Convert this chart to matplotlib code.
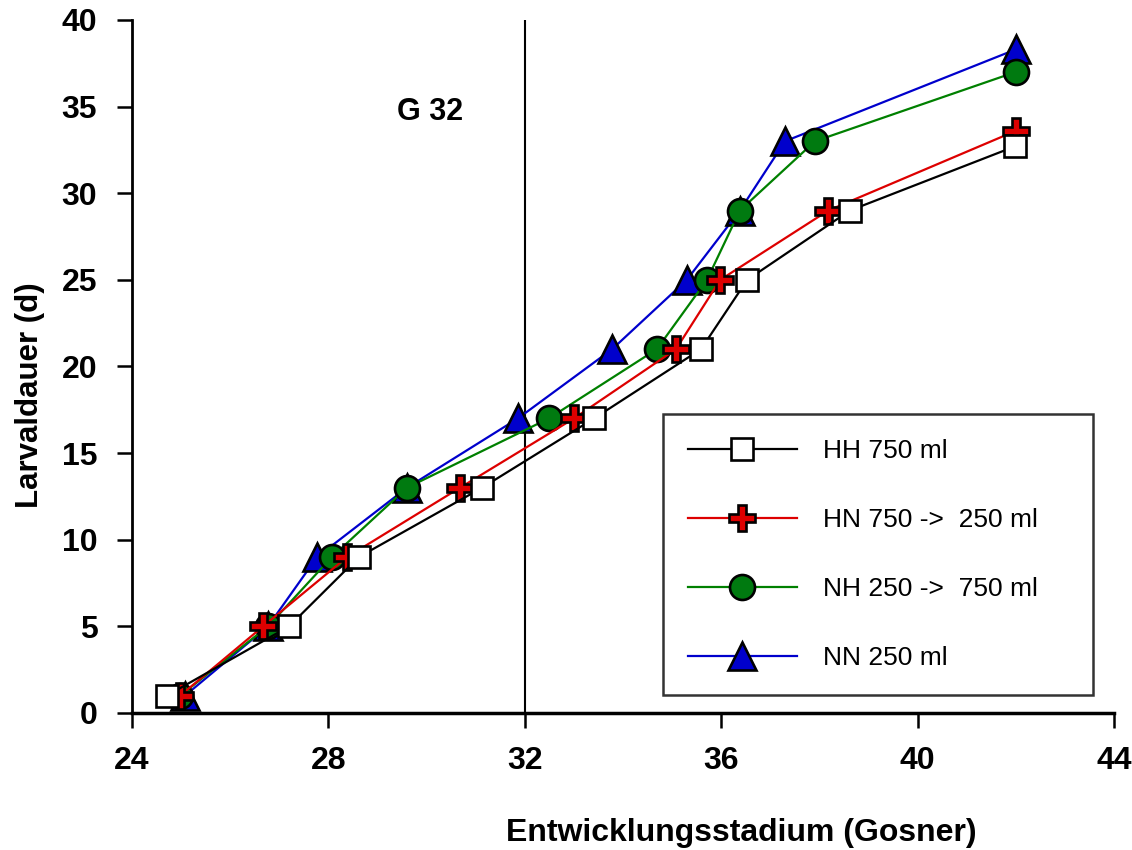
import matplotlib
matplotlib.use("Agg")
import matplotlib.pyplot as plt

# Gosner stage reached (x) versus larval duration in days (y)
hh_stage = [24.71, 27.20, 28.62, 31.13, 33.41, 35.59, 36.53, 38.62, 41.98]
hh_days = [1, 5, 9, 13, 17, 21, 25, 29, 32.7]

hn_stage = [24.98, 26.67, 28.38, 30.68, 33.00, 35.08, 35.98, 38.18, 42.00]
hn_days = [1, 5, 9, 13, 17, 21, 25, 29, 33.6]

nh_stage = [24.98, 26.77, 28.07, 29.60, 32.49, 34.69, 35.71, 36.38, 37.91, 42.00]
nh_days = [1, 5, 9, 13, 17, 21, 25, 29, 33, 37.0]

nn_stage = [25.08, 26.77, 27.77, 29.60, 31.86, 33.78, 35.30, 36.38, 37.30, 42.00]
nn_days = [1, 5, 9, 13, 17, 21, 25, 29, 33, 38.3]

labels = ["HH 750 ml", "HN 750 ->  250 ml", "NH 250 ->  750 ml", "NN 250 ml"]
x_ticks = [24, 28, 32, 36, 40, 44]
y_ticks = [0, 5, 10, 15, 20, 25, 30, 35, 40]
marker_stage = 32

plt.rcParams['font.family'] = ['Liberation Sans', 'DejaVu Sans']

fig = plt.figure(figsize=(11.32, 8.5), dpi=100)
ax = fig.add_axes([0.1166, 0.1612, 0.8675, 0.8153])

ax.axvline(marker_stage, color='black', lw=1.5, zorder=1)

common = dict(markeredgecolor='black', markeredgewidth=1.9, lw=1.6)
l_nn, = ax.plot(nn_stage, nn_days, color='#0000cc', marker='^', markersize=20,
                markerfacecolor='#0000cc', zorder=2, **common)
l_nh, = ax.plot(nh_stage, nh_days, color='#008000', marker='o', markersize=18,
                markerfacecolor='#007a10', zorder=3, **common)
l_hn, = ax.plot(hn_stage, hn_days, color='#dd0000', marker='P', markersize=19,
                markerfacecolor='#dd0000', zorder=4, **common)
l_hh, = ax.plot(hh_stage, hh_days, color='black', marker='s', markersize=15.5,
                markerfacecolor='white', zorder=5, **common)

ax.text(30.74, 34.7, "G 32", ha='right', va='center', fontsize=22, fontweight='bold')

ax.set_xlim(24, 44)
ax.set_ylim(0, 40)
ax.set_xticks(x_ticks)
ax.set_yticks(y_ticks)
ax.tick_params(axis='both', direction='out', length=11, width=1.8, labelsize=23)
ax.tick_params(axis='y', pad=14)
ax.tick_params(axis='x', pad=13)
for lab in ax.get_xticklabels() + ax.get_yticklabels():
    lab.set_fontweight('bold')

for side in ('top', 'right'):
    ax.spines[side].set_visible(False)
ax.spines['left'].set_linewidth(2.0)
ax.spines['bottom'].set_linewidth(2.5)

ax.set_xlabel("Entwicklungsstadium (Gosner)", fontsize=23, fontweight='bold')
ax.set_ylabel("Larvaldauer (d)", fontsize=22.5, fontweight='bold')
ax.xaxis.set_label_coords(0.62, -0.151)
ax.yaxis.set_label_coords(-0.089, 0.459)

leg = ax.legend([l_hh, l_hn, l_nh, l_nn], labels, loc='lower left',
                bbox_to_anchor=(0.541, 0.026, 0.438, 0.4156), mode='expand',
                fontsize=19, frameon=True, fancybox=False, edgecolor='black',
                handlelength=4.1, handletextpad=1.0, labelspacing=1.7,
                borderpad=0.95, borderaxespad=0, markerscale=1.0)
leg.get_frame().set_linewidth(1.8)

fig.savefig("out.png", dpi=100)
